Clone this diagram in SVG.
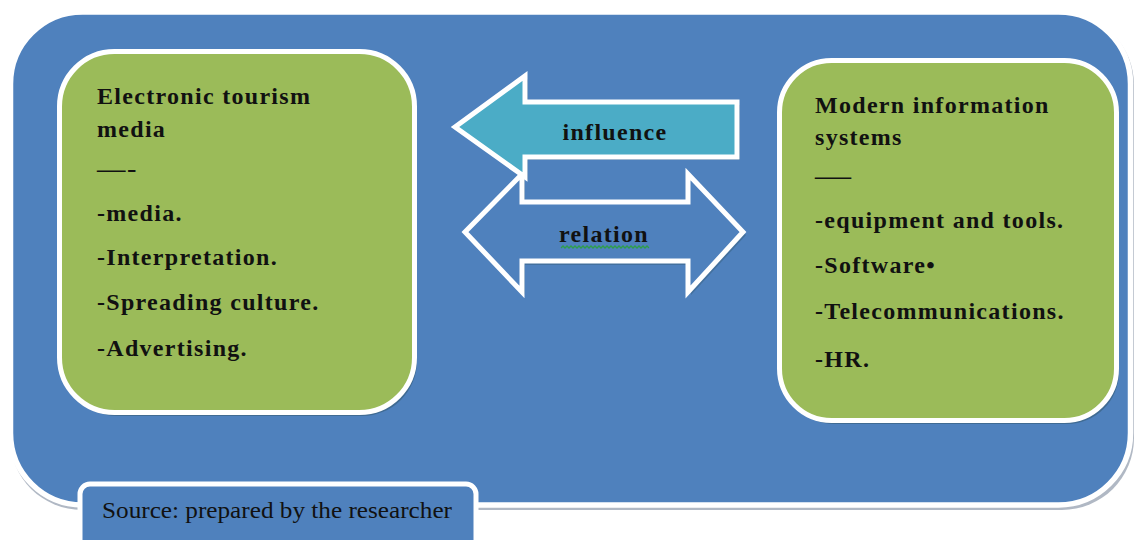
<svg xmlns="http://www.w3.org/2000/svg" width="1136" height="540" viewBox="0 0 1136 540">
  <defs>
    <style>
      .bg { fill: #ffffff; }
      .outer { fill: #4F81BD; stroke: #ffffff; stroke-width: 5.5; }
      .outer-sh { fill: #8e9aab; opacity: 0.7; }
      .box { fill: #9BBB59; stroke: #ffffff; stroke-width: 5; }
      .box-sh { fill: #3c6588; opacity: 0.8; }
      .arrow-sh { fill: #3c6588; opacity: 0.6; }
      .influence { fill: #4BACC6; stroke: #ffffff; stroke-width: 5; stroke-linejoin: miter; }
      .relation { fill: #4F81BD; stroke: #ffffff; stroke-width: 5; stroke-linejoin: miter; }
      .t { font-family: "Liberation Serif", "Times New Roman", serif; font-weight: bold; font-size: 24px; fill: #111111; letter-spacing: 1.3px; }
      .src { font-family: "Liberation Serif", "Times New Roman", serif; font-size: 24px; fill: #111111; }
      .srcbox { fill: #4F81BD; stroke: #ffffff; stroke-width: 5; }
      .squiggle { fill: none; stroke: #2e9e4a; stroke-width: 1.3; }
    </style>
  </defs>
  <rect class="bg" x="0" y="0" width="1136" height="540"/>

  <g id="background-panel">
    <rect class="outer-sh" x="10" y="13" width="1124" height="497" rx="72" ry="72"/>
    <rect class="outer" x="10.5" y="12" width="1120" height="493" rx="72" ry="72"/>
  </g>

  <g id="node-electronic-tourism">
    <rect class="box-sh" x="62" y="55" width="355" height="361" rx="55" ry="55"/>
    <rect class="box" x="59.5" y="51.5" width="355" height="361" rx="55" ry="55"/>
    <text class="t" x="97" y="104">Electronic tourism</text>
    <text class="t" x="97" y="137">media</text>
    <text class="t" x="97" y="177" textLength="41" lengthAdjust="spacingAndGlyphs">—-</text>
    <text class="t" x="97" y="221">-media.</text>
    <text class="t" x="97" y="265">-Interpretation.</text>
    <text class="t" x="97" y="310">-Spreading culture.</text>
    <text class="t" x="97" y="356">-Advertising.</text>
  </g>

  <g id="node-modern-information-systems">
    <rect class="box-sh" x="782" y="63" width="337" height="361" rx="52" ry="52"/>
    <rect class="box" x="779.5" y="60.5" width="337" height="360" rx="52" ry="52"/>
    <text class="t" x="815" y="113">Modern information</text>
    <text class="t" x="815" y="145">systems</text>
    <text class="t" x="815" y="184" textLength="38" lengthAdjust="spacingAndGlyphs">—</text>
    <text class="t" x="815" y="228">-equipment and tools.</text>
    <text class="t" x="815" y="273">-Software•</text>
    <text class="t" x="815" y="319">-Telecommunications.</text>
    <text class="t" x="815" y="367">-HR.</text>
  </g>

  <g id="connectors">
    <g id="relation-arrow">
      <polygon class="arrow-sh" points="468,235 525,176 525,205 691,205 691,176 746,235 691,295 691,265 525,265 525,295"/>
      <polygon class="relation" points="465,232 522,174 522,202 688,202 688,174 743,232 688,292 688,261 522,261 522,292"/>
      <text class="t" x="604" y="242" text-anchor="middle">relation</text>
      <path class="squiggle" d="M561,248 l2,-2 l2,2 l2,-2 l2,2 l2,-2 l2,2 l2,-2 l2,2 l2,-2 l2,2 l2,-2 l2,2 l2,-2 l2,2 l2,-2 l2,2 l2,-2 l2,2 l2,-2 l2,2 l2,-2 l2,2 l2,-2 l2,2 l2,-2 l2,2 l2,-2 l2,2 l2,-2 l2,2 l2,-2 l2,2 l2,-2 l2,2 l2,-2 l2,2 l2,-2 l2,2 l2,-2 l2,2 l2,-2 l2,2 l2,-2 l2,2"/>
    </g>
    <g id="influence-arrow">
      <polygon class="arrow-sh" points="458,130 528,79 528,105 740,105 740,160 528,160 528,180"/>
      <polygon class="influence" points="455,127 525,76 525,102 737,102 737,157 525,157 525,177"/>
      <text class="t" x="615" y="140" text-anchor="middle">influence</text>
    </g>
  </g>

  <g id="source-note">
    <rect class="srcbox" x="80" y="484" width="396" height="70" rx="10" ry="10"/>
    <text class="src" x="102" y="518" textLength="350" lengthAdjust="spacingAndGlyphs">Source: prepared by the researcher</text>
  </g>
</svg>
